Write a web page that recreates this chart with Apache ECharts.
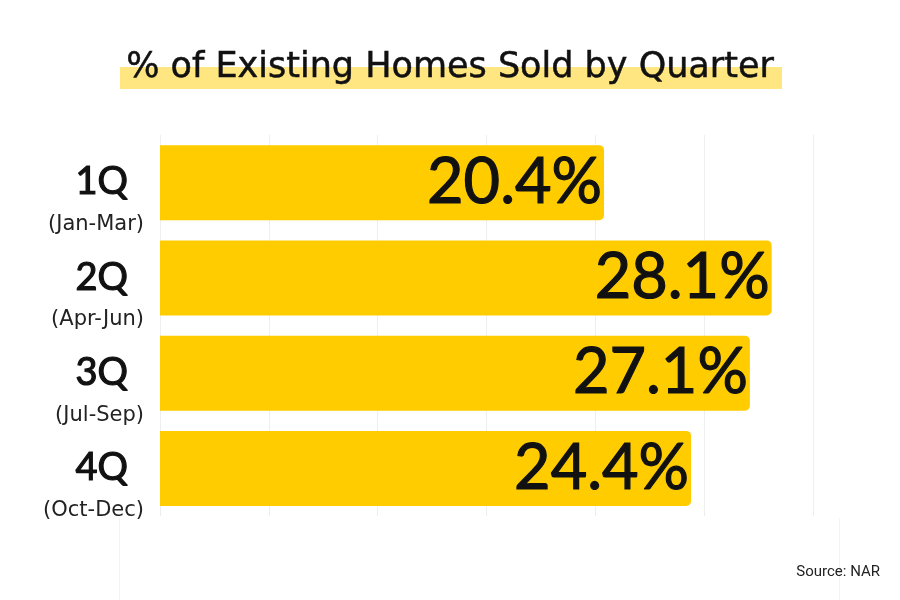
<!DOCTYPE html>
<html>
<head>
<meta charset="utf-8">
<script src="https://cdn.jsdelivr.net/npm/echarts@6/dist/echarts.min.js"></script>
<style>
html,body{margin:0;padding:0;background:#fff;}
#chart{width:900px;height:600px;}
</style>
</head>
<body>
<div id="chart"></div>
<script>
var quarters = ['1Q', '2Q', '3Q', '4Q'];
var months = ['(Jan-Mar)', '(Apr-Jun)', '(Jul-Sep)', '(Oct-Dec)'];
var shares = [20.4, 28.1, 27.1, 24.4];
var titleText = '% of Existing Homes Sold by Quarter';
var sourceText = 'Source: NAR';

var chart = echarts.init(document.getElementById('chart'), null, {renderer: 'canvas'});
var option = {
  backgroundColor: '#ffffff',
  animation: false,
  title: {
    text: titleText,
    left: 'center',
    top: 45,
    textStyle: {fontFamily: 'DejaVu Sans', fontSize: 35, fontWeight: 'normal', color: '#111111',
      textBorderColor: '#111111', textBorderWidth: 0.5}
  },
  graphic: [
    {type: 'rect', z: -1, shape: {x: 120, y: 67, width: 662, height: 22}, style: {fill: '#FFE680'}},
    {type: 'line', shape: {x1: 119.5, y1: 518, x2: 119.5, y2: 600}, style: {stroke: '#f4f4f4', lineWidth: 1}},
    {type: 'line', shape: {x1: 839.5, y1: 518, x2: 839.5, y2: 600}, style: {stroke: '#f4f4f4', lineWidth: 1}},
    {type: 'text', right: 20, top: 565, style: {text: sourceText, fontFamily: 'Roboto', fontSize: 15, fill: '#222222'}}
  ],
  grid: {left: 160, right: 87, top: 135, bottom: 84, containLabel: false},
  xAxis: {
    type: 'value', min: 0, max: 30, interval: 5,
    axisLabel: {show: false}, axisTick: {show: false}, axisLine: {show: false},
    splitLine: {show: true, lineStyle: {color: '#eeeeee', width: 1}}
  },
  yAxis: {
    type: 'category', inverse: true,
    data: quarters.map(function (q, i) { return q + ' ' + months[i]; }),
    axisLine: {show: false}, axisTick: {show: false},
    axisLabel: {
      margin: 16,
      align: 'right',
      padding: [32, 0, 0, 0],
      formatter: function (v, i) {
        return '{q|' + quarters[i] + '}\n{m|' + months[i] + '}';
      },
      rich: {
        q: {fontFamily: 'Lato', fontSize: 38, color: '#111111', lineHeight: 52, align: 'right',
          padding: [0, 16, 0, 0], textBorderColor: '#111111', textBorderWidth: 1.2},
        m: {fontFamily: 'DejaVu Sans', fontSize: 21, color: '#222222', lineHeight: 33, align: 'right'}
      }
    }
  },
  series: [{
    type: 'bar',
    data: shares,
    barWidth: 75,
    itemStyle: {color: '#FFCC00', borderRadius: [0, 5, 5, 0]},
    label: {
      show: true, position: 'insideRight', distance: 2,
      formatter: '{c}%',
      fontFamily: 'Lato', fontSize: 63, fontWeight: 'normal', color: '#111111',
      textBorderColor: '#111111', textBorderWidth: 1.2
    }
  }]
};
chart.setOption(option);
</script>
</body>
</html>
